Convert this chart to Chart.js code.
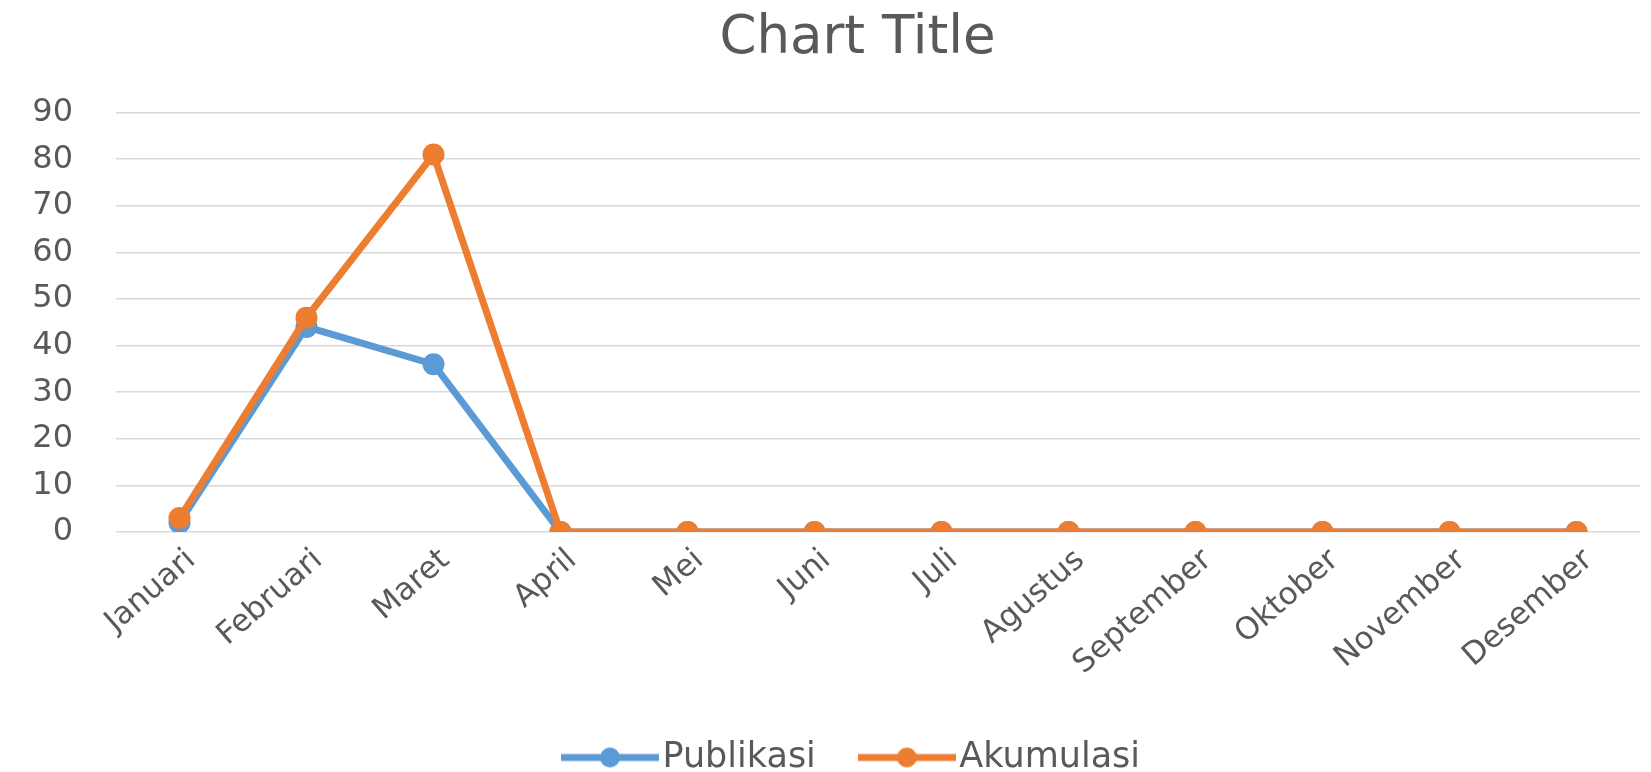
<!DOCTYPE html>
<html>
<head>
<meta charset="utf-8">
<script src="https://cdn.jsdelivr.net/npm/chart.js@4.4.1/dist/chart.umd.min.js"></script>
<style>
  html, body { margin: 0; padding: 0; background: #fff; overflow: hidden; }
  #wrap { width: 1651px; height: 772px; }
</style>
</head>
<body>
<div id="wrap"><canvas id="chart"></canvas></div>
<script>
// Data
var months = ['Januari', 'Februari', 'Maret', 'April', 'Mei', 'Juni', 'Juli',
              'Agustus', 'September', 'Oktober', 'November', 'Desember'];
var publikasi = [2, 44, 36, 0, 0, 0, 0, 0, 0, 0, 0, 0];
var akumulasi = [3, 46, 81, 0, 0, 0, 0, 0, 0, 0, 0, 0];

var BLUE = '#5B9BD5';
var ORANGE = '#ED7D31';
var TEXT = '#595959';
var FONT = "'DejaVu Sans', sans-serif";

// Excel-like legend icon: a short thick line with a dot in the middle
function legendIcon(color) {
    var c = document.createElement('canvas');
    c.width = 98;
    c.height = 24;
    var g = c.getContext('2d');
    g.strokeStyle = color;
    g.lineWidth = 7;
    g.beginPath();
    g.moveTo(0, 12);
    g.lineTo(98, 12);
    g.stroke();
    g.fillStyle = color;
    g.beginPath();
    g.arc(49, 12, 10, 0, Math.PI * 2);
    g.fill();
    return c;
}
var icons = [legendIcon(BLUE), legendIcon(ORANGE)];

var ctx = document.getElementById('chart').getContext('2d');
new Chart(ctx, {
    type: 'line',
    data: {
        labels: months,
        datasets: [{
            label: 'Publikasi',
            data: publikasi,
            borderColor: BLUE,
            backgroundColor: BLUE,
            borderWidth: 7,
            pointRadius: 11,
            pointBorderWidth: 0,
            tension: 0,
            order: 2
        }, {
            label: 'Akumulasi',
            data: akumulasi,
            borderColor: ORANGE,
            backgroundColor: ORANGE,
            borderWidth: 7,
            pointRadius: 11,
            pointBorderWidth: 0,
            tension: 0,
            order: 1
        }]
    },
    options: {
        responsive: true,
        maintainAspectRatio: false,
        animation: false,
        layout: {
            padding: { top: 7, right: 2, left: 66, bottom: -13 }
        },
        scales: {
            x: {
                offset: true,
                grid: { display: false, drawTicks: false },
                border: { display: false },
                ticks: {
                    color: TEXT,
                    font: { family: FONT, size: 31 },
                    minRotation: 41,
                    maxRotation: 41,
                    padding: 10,
                    labelOffset: 12
                },
                afterFit: function (scale) { scale.height = 152; }
            },
            y: {
                min: 0,
                max: 90,
                grid: { color: '#D9D9D9', lineWidth: 1.5, drawTicks: false },
                border: { display: false },
                ticks: {
                    stepSize: 10,
                    color: TEXT,
                    font: { family: FONT, size: 32 },
                    padding: 43
                },
                afterFit: function (scale) {
                    scale.width = 50;
                    // let the tick labels spill into the left padding
                    scale._computeLabelArea = function () { return null; };
                }
            }
        },
        plugins: {
            title: {
                display: true,
                text: 'Chart Title',
                color: TEXT,
                font: { family: FONT, size: 53, weight: 'normal' },
                padding: { top: 0, bottom: 42 }
            },
            legend: {
                position: 'bottom',
                labels: {
                    color: TEXT,
                    font: { family: FONT, size: 35 },
                    usePointStyle: true,
                    pointStyleWidth: 70,
                    padding: 56,
                    sort: function (a, b) { return a.datasetIndex - b.datasetIndex; },
                    generateLabels: function (chart) {
                        var items = Chart.defaults.plugins.legend.labels.generateLabels(chart);
                        items.forEach(function (item) {
                            item.pointStyle = icons[item.datasetIndex];
                        });
                        return items;
                    }
                }
            },
            tooltip: { enabled: false }
        }
    }
});
</script>
</body>
</html>
